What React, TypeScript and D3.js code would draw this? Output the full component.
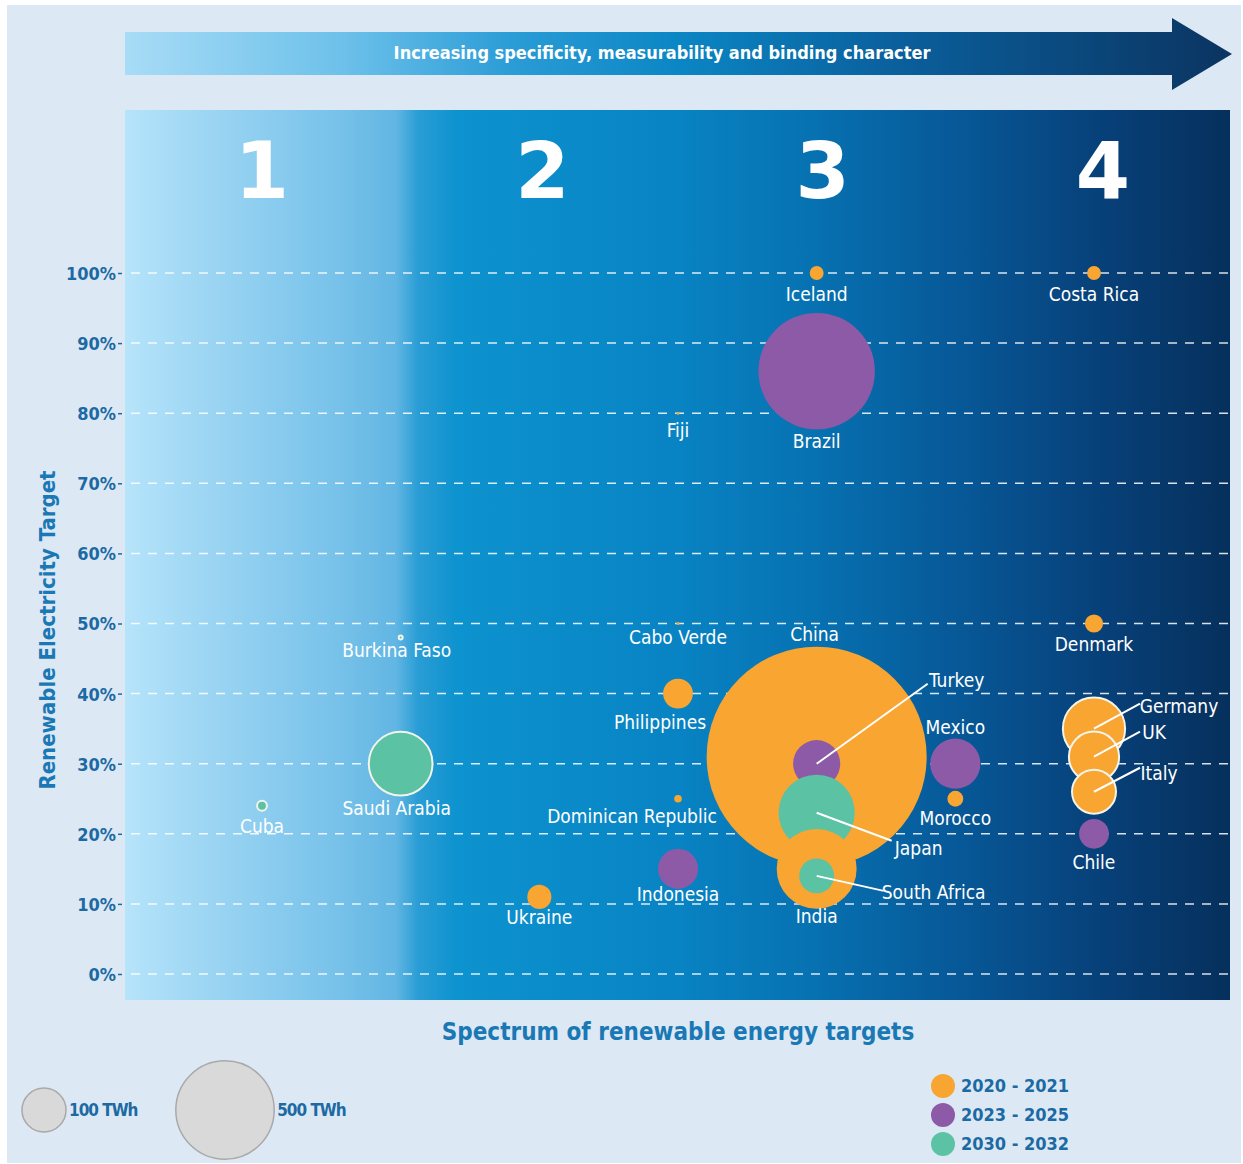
import React from "react";
import * as d3 from "d3";

// ---------- DATA ----------
const countries = [
  "China", "Turkey", "Japan", "India", "South Africa",
  "Brazil", "Iceland", "Costa Rica", "Fiji", "Burkina Faso", "Cabo Verde",
  "Cuba", "Saudi Arabia", "Ukraine", "Philippines", "Dominican Republic", "Indonesia",
  "Mexico", "Morocco", "Denmark", "Germany", "UK", "Italy", "Chile",
];
// position on spectrum of renewable energy targets (1..4)
const spectrum = [3, 3, 3, 3, 3, 3, 3, 4, 2.5, 1.5, 2.5, 1, 1.5, 2, 2.5, 2.5, 2.5, 3.5, 3.5, 4, 4, 4, 4, 4];
// renewable electricity target (%)
const target = [31, 30, 23, 15, 14, 86, 100, 100, 80, 48, 50, 24, 30, 11, 40, 25, 15, 30, 25, 50, 35, 31, 26, 20];
// renewable electricity in TWh (bubble size)
const twh = [2500, 115, 300, 330, 63, 700, 10, 10, 0.5, 0.8, 0.4, 5, 210, 30, 46, 3, 83, 130, 13, 17, 200, 130, 100, 46];
// target year period
const period = [
  "2020 - 2021", "2023 - 2025", "2030 - 2032", "2020 - 2021", "2030 - 2032",
  "2023 - 2025", "2020 - 2021", "2020 - 2021", "2020 - 2021", "2030 - 2032", "2020 - 2021",
  "2030 - 2032", "2030 - 2032", "2020 - 2021", "2020 - 2021", "2020 - 2021", "2023 - 2025",
  "2023 - 2025", "2020 - 2021", "2020 - 2021", "2020 - 2021", "2020 - 2021", "2020 - 2021", "2023 - 2025",
];
const periods = ["2020 - 2021", "2023 - 2025", "2030 - 2032"];
const yTicks = [0, 10, 20, 30, 40, 50, 60, 70, 80, 90, 100];
const columns = [1, 2, 3, 4];
const sizeLegend = [100, 500];

// ---------- LAYOUT / STYLE ----------
const W = 1243;
const H = 1164;
const plot = { x0: 125, x1: 1230, y0: 110, y1: 1000 };
const periodColors = ["#f8a532", "#8c5aa6", "#5cc2a4"];
const FONT = "'Liberation Sans Narrow', 'DejaVu Sans Condensed', 'Roboto', sans-serif";
const TITLE_BLUE = "#1a78b4";
const TICK_BLUE = "#1c6aa3";

// label placements (pixel offsets from the bubble centre)
type Lab = { dx: number; dy: number; anchor?: string; lx?: number; ly?: number };
const labelLayout: Record<string, Lab> = {
  China: { dx: -2, dy: -121 },
  Turkey: { dx: 140, dy: -82, anchor: "middle", lx: 111, ly: -80 },
  Japan: { dx: 102, dy: 37, anchor: "middle", lx: 75, ly: 28 },
  India: { dx: 0, dy: 49 },
  "South Africa": { dx: 117, dy: 18, anchor: "middle", lx: 67, ly: 15 },
  Brazil: { dx: 0, dy: 71 },
  Iceland: { dx: 0, dy: 22 },
  "Costa Rica": { dx: 0, dy: 22 },
  Fiji: { dx: 0, dy: 18 },
  "Burkina Faso": { dx: -4, dy: 14 },
  "Cabo Verde": { dx: 0, dy: 15 },
  Cuba: { dx: 0, dy: 22 },
  "Saudi Arabia": { dx: -4, dy: 46 },
  Ukraine: { dx: 0, dy: 22 },
  Philippines: { dx: -18, dy: 30 },
  "Dominican Republic": { dx: -46, dy: 19 },
  Indonesia: { dx: 0, dy: 27 },
  Mexico: { dx: 0, dy: -35 },
  Morocco: { dx: 0, dy: 21 },
  Denmark: { dx: 0, dy: 22 },
  Germany: { dx: 85, dy: -21, anchor: "middle", lx: 46, ly: -25 },
  UK: { dx: 60, dy: -23, anchor: "middle", lx: 46, ly: -25 },
  Italy: { dx: 65, dy: -17, anchor: "middle", lx: 46, ly: -24 },
  Chile: { dx: 0, dy: 30 },
};
const stroked = new Set(["Saudi Arabia", "Cuba", "Burkina Faso", "Germany", "UK", "Italy"]);

export default function App() {
  const x = d3.scaleLinear().domain([1, 4]).range([262, 1094]);
  const y = d3.scaleLinear().domain([0, 100]).range([974, 273]);
  const r = d3.scaleSqrt().domain([0, 100]).range([0, 22]);
  const color = d3.scaleOrdinal<string, string>().domain(periods).range(periodColors);

  const axisRef = React.useRef<SVGGElement>(null);
  React.useEffect(() => {
    if (!axisRef.current) return;
    const g = d3.select(axisRef.current);
    g.call(
      d3.axisLeft(y).tickValues(yTicks).tickFormat((d) => `${d}%`).tickSize(4).tickPadding(2)
    );
    g.select(".domain").remove();
    g.selectAll(".tick line").attr("stroke", TICK_BLUE).attr("stroke-width", 1.5);
    g.selectAll(".tick text")
      .attr("fill", TICK_BLUE)
      .attr("font-family", FONT)
      .attr("font-size", 18)
      .attr("font-weight", "bold")
      .attr("dy", "0.36em");
  }, []);

  const data = countries.map((c, i) => ({
    name: c,
    x: spectrum[i],
    y: target[i],
    v: twh[i],
    p: period[i],
  }));

  const arrowPath = d3.path();
  arrowPath.moveTo(125, 32);
  arrowPath.lineTo(1172, 32);
  arrowPath.lineTo(1172, 18);
  arrowPath.lineTo(1232, 54);
  arrowPath.lineTo(1172, 90);
  arrowPath.lineTo(1172, 75);
  arrowPath.lineTo(125, 75);
  arrowPath.closePath();

  return (
    <div style={{ position: "absolute", left: 0, top: 0, width: W, height: H, background: "#fff" }}>
      <svg width={W} height={H} style={{ display: "block" }}>
        <defs>
          <linearGradient id="plotGrad" x1="0" x2="1" y1="0" y2="0">
            <stop offset="0" stopColor="#b6e4fb" />
            <stop offset="0.06" stopColor="#a1d8f4" />
            <stop offset="0.19" stopColor="#78c2ea" />
            <stop offset="0.245" stopColor="#62b6e3" />
            <stop offset="0.265" stopColor="#2a9dd5" />
            <stop offset="0.3" stopColor="#0d93cf" />
            <stop offset="0.5" stopColor="#0883c3" />
            <stop offset="0.62" stopColor="#0772b2" />
            <stop offset="0.76" stopColor="#075796" />
            <stop offset="0.88" stopColor="#07417a" />
            <stop offset="1" stopColor="#06305c" />
          </linearGradient>
          <linearGradient id="arrowGrad" gradientUnits="userSpaceOnUse" x1="125" x2="1232" y1="0" y2="0">
            <stop offset="0" stopColor="#a8dcf6" />
            <stop offset="0.2" stopColor="#6cc0ea" />
            <stop offset="0.35" stopColor="#2a9cd6" />
            <stop offset="0.5" stopColor="#0b86c4" />
            <stop offset="0.7" stopColor="#0a5f9c" />
            <stop offset="1" stopColor="#0b3461" />
          </linearGradient>
        </defs>

        {/* page panel */}
        <rect x={7} y={5} width={1234} height={1158} fill="#dce9f5" />

        {/* top arrow */}
        <path d={arrowPath.toString()} fill="url(#arrowGrad)" />
        <text
          x={662}
          y={54}
          fill="#fff"
          fontFamily={FONT}
          fontSize={18}
          fontWeight="bold"
          textAnchor="middle"
          dominantBaseline="middle"
        >
          Increasing specificity, measurability and binding character
        </text>

        {/* plot background */}
        <rect x={plot.x0} y={plot.y0} width={plot.x1 - plot.x0} height={plot.y1 - plot.y0} fill="url(#plotGrad)" />

        {/* column numbers */}
        {columns.map((c) => (
          <text
            key={c}
            x={x(c) + (c - 1) * 3}
            y={198}
            fill="#fff"
            fontFamily="'DejaVu Sans', sans-serif"
            fontWeight="bold"
            fontSize={78}
            textAnchor="middle"
          >
            {c}
          </text>
        ))}

        {/* gridlines */}
        {yTicks.map((t) => (
          <line
            key={t}
            x1={plot.x0 + 6}
            x2={plot.x1}
            y1={y(t)}
            y2={y(t)}
            stroke="#ffffff"
            strokeOpacity={0.85}
            strokeWidth={1.5}
            strokeDasharray="9 8"
          />
        ))}

        {/* y axis */}
        <g ref={axisRef} transform={`translate(122,0)`} />
        <text
          transform={`translate(55,630) rotate(-90)`}
          fill={TITLE_BLUE}
          fontFamily={FONT}
          fontSize={22}
          fontWeight="bold"
          textAnchor="middle"
        >
          Renewable Electricity Target
        </text>

        {/* bubbles */}
        {data.map((d) => (
          <circle
            key={d.name}
            cx={x(d.x)}
            cy={y(d.y)}
            r={Math.max(r(d.v), 1.5)}
            fill={color(d.p)}
            stroke={stroked.has(d.name) ? "#f1f4ea" : "none"}
            strokeWidth={stroked.has(d.name) ? 2 : 0}
          />
        ))}

        {/* leader lines */}
        {data.map((d) => {
          const L = labelLayout[d.name];
          if (L.lx === undefined) return null;
          return (
            <line
              key={"l" + d.name}
              x1={x(d.x)}
              y1={y(d.y)}
              x2={x(d.x) + L.lx}
              y2={y(d.y) + (L.ly ?? 0)}
              stroke="#fff"
              strokeWidth={2}
            />
          );
        })}

        {/* labels */}
        {data.map((d) => {
          const L = labelLayout[d.name];
          return (
            <text
              key={"t" + d.name}
              x={x(d.x) + L.dx}
              y={y(d.y) + L.dy}
              fill="#fff"
              fontFamily={FONT}
              fontSize={19}
              textAnchor={L.anchor ?? "middle"}
              dominantBaseline="middle"
            >
              {d.name}
            </text>
          );
        })}

        {/* x axis title */}
        <text
          x={678}
          y={1033}
          fill={TITLE_BLUE}
          fontFamily={FONT}
          fontSize={24}
          fontWeight="bold"
          textAnchor="middle"
          dominantBaseline="middle"
        >
          Spectrum of renewable energy targets
        </text>

        {/* size legend */}
        {sizeLegend.map((v, i) => {
          const cx = i === 0 ? 44 : 225;
          return (
            <g key={v}>
              <circle cx={cx} cy={1110} r={r(v)} fill="#d9d9da" stroke="#a9a9a9" strokeWidth={1.5} />
              <text
                x={cx + r(v) + 3}
                y={1111}
                fill={TICK_BLUE}
                fontFamily={FONT}
                fontSize={17}
                fontWeight="bold"
                letterSpacing={-1}
                dominantBaseline="middle"
              >
                {`${v} TWh`}
              </text>
            </g>
          );
        })}

        {/* colour legend */}
        {periods.map((p, i) => (
          <g key={p}>
            <circle cx={943} cy={1086 + i * 29} r={12} fill={color(p)} />
            <text
              x={961}
              y={1087 + i * 29}
              fill={TICK_BLUE}
              fontFamily={FONT}
              fontSize={18}
              fontWeight="bold"
              dominantBaseline="middle"
            >
              {p}
            </text>
          </g>
        ))}
      </svg>
    </div>
  );
}
